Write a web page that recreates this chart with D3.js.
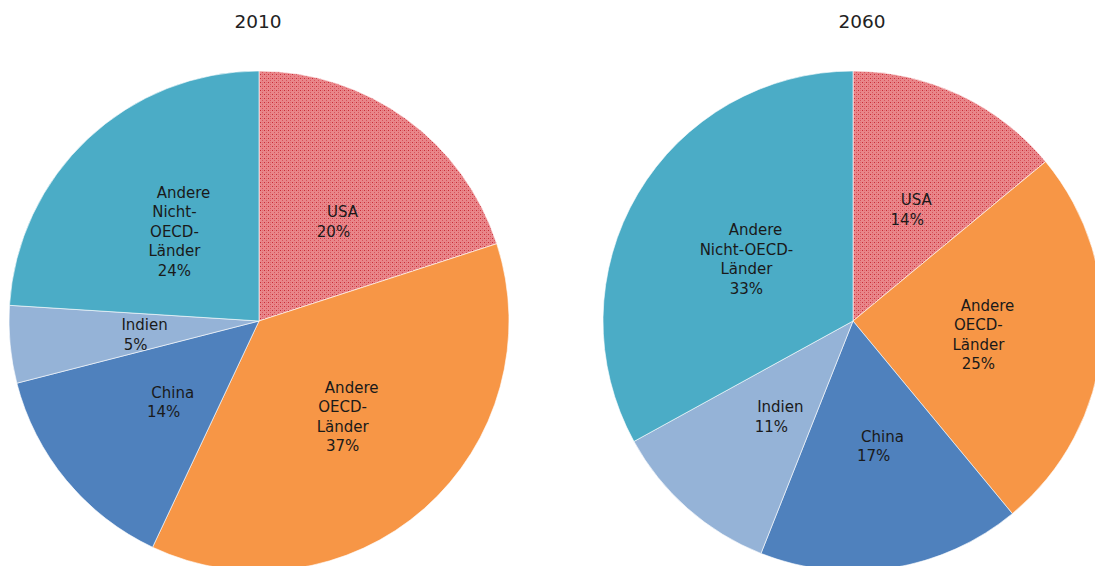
<!DOCTYPE html>
<html><head><meta charset="utf-8">
<script src="https://cdn.jsdelivr.net/npm/d3@7/dist/d3.min.js"></script>
<style>html,body{margin:0;padding:0;background:#fff;overflow:hidden}</style>
</head><body>
<svg id="c" width="1095" height="566"></svg>
<script>
const years = ["2010", "2060"];
const categories = ["USA", "Andere OECD-Länder", "China", "Indien", "Andere Nicht-OECD-Länder"];
const values2010 = [20, 37, 14, 5, 24];
const values2060 = [14, 25, 17, 11, 33];
const labelLines2010 = [["USA"], ["Andere", "OECD-", "Länder"], ["China"], ["Indien"], ["Andere", "Nicht-", "OECD-", "Länder"]];
const labelLines2060 = [["USA"], ["Andere", "OECD-", "Länder"], ["China"], ["Indien"], ["Andere", "Nicht-OECD-", "Länder"]];
const colors = ["url(#dots)", "#F79646", "#4F81BD", "#95B3D7", "#4BACC6"];

const svg = d3.select("#c");
const defs = svg.append("defs");
const pat = defs.append("pattern").attr("id", "dots").attr("patternUnits", "userSpaceOnUse")
  .attr("width", 4).attr("height", 4);
pat.append("rect").attr("width", 4).attr("height", 4).attr("fill", "#E9868A");
pat.append("rect").attr("x", 1).attr("y", 1).attr("width", 1).attr("height", 1).attr("fill", "#C92B36");
pat.append("rect").attr("x", 3).attr("y", 3).attr("width", 1).attr("height", 1).attr("fill", "#D8545B");
pat.append("rect").attr("x", 3).attr("y", 1).attr("width", 1).attr("height", 1).attr("fill", "#E06A70");

const font = "'Century Gothic', 'URW Gothic', 'DejaVu Sans', sans-serif";
const charts = [
  {year: years[0], values: values2010, lines: labelLines2010, cx: 259, cy: 321, tx: 258},
  {year: years[1], values: values2060, lines: labelLines2060, cx: 853, cy: 321, tx: 862}
];
const R = 250;
const pie = d3.pie().sort(null).value(d => d);
const arc = d3.arc().innerRadius(0).outerRadius(R);
const labelArc = d3.arc().innerRadius(R * 0.5).outerRadius(R * 0.5);

charts.forEach(ch => {
  svg.append("text").attr("x", ch.tx).attr("y", 28).attr("text-anchor", "middle")
    .attr("font-family", font).attr("font-size", 18.5).attr("fill", "#222").text(ch.year);
  const g = svg.append("g").attr("transform", `translate(${ch.cx},${ch.cy})`);
  const arcs = pie(ch.values);
  g.selectAll("path").data(arcs).join("path")
    .attr("d", arc).attr("fill", (d, i) => colors[i])
    .attr("stroke", "#fff").attr("stroke-width", 0.6);
  arcs.forEach((a, i) => {
    const c = labelArc.centroid(a);
    const lines = ch.lines[i].concat([ch.values[i] + "%"]);
    const lh = 19.5;
    const y0 = c[1] - (lines.length - 1) * lh / 2;
    const t = g.append("text").attr("text-anchor", "middle")
      .attr("font-family", font).attr("font-size", 15).attr("fill", "#1a1a1a");
    lines.forEach((ln, k) => {
      t.append("tspan").attr("x", c[0] + (k === 0 ? 10 : 1)).attr("y", y0 + k * lh + 7).text(ln);
    });
  });
});
</script>
</body></html>
